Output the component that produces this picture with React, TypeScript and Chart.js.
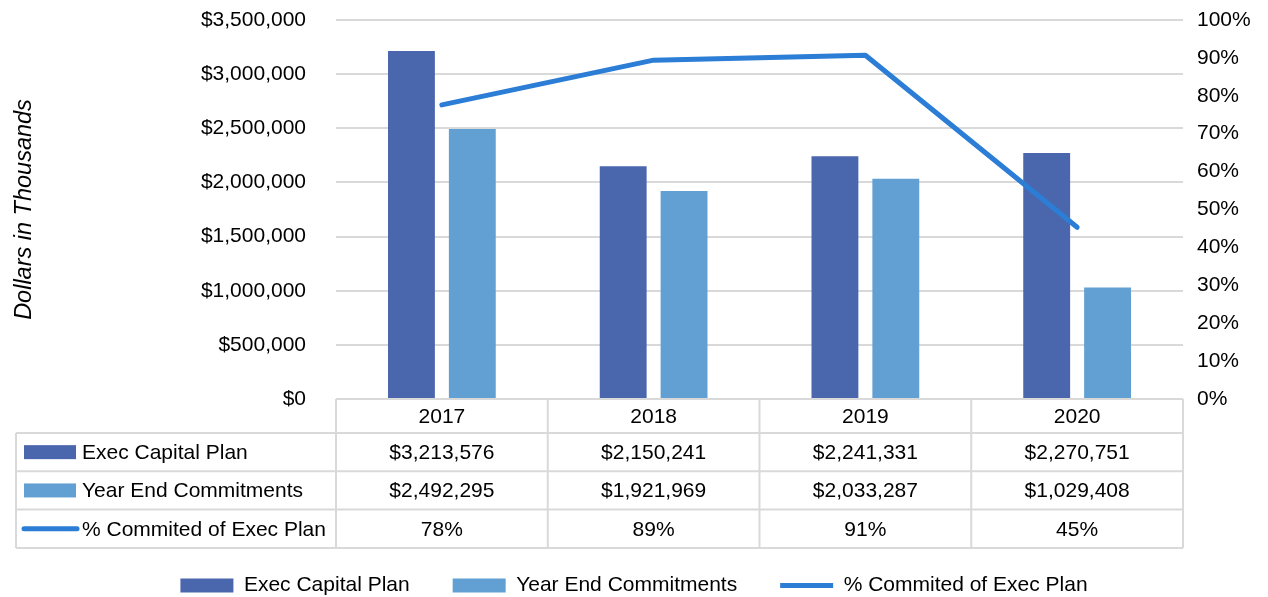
import React, { useEffect, useRef } from "react";
import { Chart, registerables } from "chart.js";
Chart.register(...registerables);

const years = ["2017", "2018", "2019", "2020"];
const execCapitalPlan = [3213576, 2150241, 2241331, 2270751];
const yearEndCommitments = [2492295, 1921969, 2033287, 1029408];
const pctCommitted = [0.776, 0.894, 0.907, 0.453];
const seriesNames = ["Exec Capital Plan", "Year End Commitments", "% Commited of Exec Plan"];
const yAxisTitle = "Dollars in Thousands";

const FONT = "'Liberation Sans', Arial, sans-serif";
const C_EXEC = "#4A66AC";
const C_YE = "#629FD2";
const C_LINE = "#2B7DD6";
const GRID = "#D9D9D9";
const TXT = "#000000";

const fmtDollar = (v: number) => "$" + Math.round(v).toLocaleString("en-US");
const fmtPct = (v: number) => Math.round(v * 100) + "%";

const tablePlugin = {
  id: "dataTable",
  afterDraw(chart: any) {
    const { ctx, chartArea } = chart;
    const xs = chart.scales.x;
    const n = years.length;
    const left = chartArea.left;
    const right = chartArea.right;
    const cw = (right - left) / n;
    const top = chartArea.bottom;
    const headerH = 34;
    const rowH = 38.3;
    const tableLeft = 16;
    const rowsTop = top + headerH;
    const bottom = rowsTop + 3 * rowH;
    ctx.save();
    ctx.strokeStyle = GRID;
    ctx.lineWidth = 2;
    const line = (x1: number, y1: number, x2: number, y2: number) => {
      ctx.beginPath();
      ctx.moveTo(x1, y1);
      ctx.lineTo(x2, y2);
      ctx.stroke();
    };
    line(left, top, right, top);
    for (let r = 0; r <= 3; r++) line(tableLeft, rowsTop + r * rowH, right, rowsTop + r * rowH);
    for (let i = 0; i <= n; i++) line(left + i * cw, top, left + i * cw, bottom);
    line(tableLeft, rowsTop, tableLeft, bottom);

    ctx.font = `21px ${FONT}`;
    ctx.fillStyle = TXT;
    ctx.textAlign = "center";
    ctx.textBaseline = "middle";
    years.forEach((y, i) => ctx.fillText(y, xs.getPixelForValue(i), top + headerH / 2 + 1));
    const rows = [
      execCapitalPlan.map(fmtDollar),
      yearEndCommitments.map(fmtDollar),
      pctCommitted.map(fmtPct),
    ];
    rows.forEach((vals, r) => {
      const cy = rowsTop + r * rowH + rowH / 2 + 1;
      vals.forEach((v, i) => ctx.fillText(v, xs.getPixelForValue(i), cy));
    });
    ctx.textAlign = "left";
    seriesNames.forEach((name, r) => {
      const cy = rowsTop + r * rowH + rowH / 2;
      if (r < 2) {
        ctx.fillStyle = r === 0 ? C_EXEC : C_YE;
        ctx.fillRect(24, cy - 7, 52, 14);
      } else {
        ctx.strokeStyle = C_LINE;
        ctx.lineWidth = 5;
        ctx.lineCap = "round";
        line(24, cy, 77, cy);
      }
      ctx.fillStyle = TXT;
      ctx.fillText(name, 82, cy + 1);
    });
    ctx.restore();
  },
};

export default function App() {
  const ref = useRef<HTMLCanvasElement | null>(null);
  useEffect(() => {
    if (!ref.current) return;
    const chart = new Chart(ref.current, {
      type: "bar",
      data: {
        labels: years,
        datasets: [
          {
            type: "bar",
            label: seriesNames[0],
            data: execCapitalPlan,
            backgroundColor: C_EXEC,
            borderWidth: 0,
            yAxisID: "y",
            order: 1,
            pointStyle: "rect",
            categoryPercentage: 0.575,
            barPercentage: 0.77,
          } as any,
          {
            type: "bar",
            label: seriesNames[1],
            data: yearEndCommitments,
            backgroundColor: C_YE,
            borderWidth: 0,
            yAxisID: "y",
            order: 1,
            pointStyle: "rect",
            categoryPercentage: 0.575,
            barPercentage: 0.77,
          } as any,
          {
            type: "line",
            label: seriesNames[2],
            data: pctCommitted,
            borderColor: C_LINE,
            backgroundColor: C_LINE,
            borderWidth: 5,
            borderCapStyle: "round",
            borderJoinStyle: "round",
            pointRadius: 0,
            pointHoverRadius: 0,
            pointStyle: "line",
            tension: 0,
            yAxisID: "y1",
            order: 0,
          } as any,
        ],
      },
      options: {
        responsive: false,
        animation: false,
        devicePixelRatio: 1,
        layout: { padding: { top: 0, left: 0, right: 0, bottom: -9 } },
        plugins: {
          tooltip: { enabled: false },
          legend: {
            position: "bottom",
            labels: {
              font: { family: FONT, size: 21 },
              color: TXT,
              usePointStyle: true,
              pointStyleWidth: 53,
              boxHeight: 14,
              padding: 43,
              sort: (a: any, b: any) => a.datasetIndex - b.datasetIndex,
            },
          },
        },
        scales: {
          x: {
            type: "category",
            grid: { display: false },
            border: { display: false },
            ticks: { display: false },
            afterFit: (s: any) => {
              s.height = 133;
            },
          },
          y: {
            position: "left",
            min: 0,
            max: 3500000,
            ticks: {
              stepSize: 500000,
              padding: 30,
              color: TXT,
              font: { family: FONT, size: 21 },
              callback: (v: any) => fmtDollar(Number(v)),
            },
            grid: { color: GRID, lineWidth: 2, drawTicks: false },
            border: { display: false },
            title: {
              display: true,
              text: yAxisTitle,
              color: TXT,
              font: { family: FONT, size: 23.5, style: "italic" },
              padding: { top: 10, bottom: 0 },
            },
            afterFit: (s: any) => {
              s.width = 336;
              s.paddingTop = 20;
              s.paddingBottom = 0;
            },
          },
          y1: {
            position: "right",
            min: 0,
            max: 1,
            ticks: {
              stepSize: 0.1,
              padding: 14,
              color: TXT,
              font: { family: FONT, size: 21 },
              callback: (v: any) => fmtPct(Number(v)),
            },
            grid: { display: false, drawTicks: false },
            border: { display: false },
            afterFit: (s: any) => {
              s.width = 85;
              s.paddingTop = 20;
              s.paddingBottom = 0;
            },
          },
        },
      },
      plugins: [tablePlugin],
    });
    return () => chart.destroy();
  }, []);
  return (
    <div style={{ position: "absolute", left: 0, top: 0, width: 1268, height: 597, background: "#fff" }}>
      <canvas ref={ref} width={1268} height={597} />
    </div>
  );
}
